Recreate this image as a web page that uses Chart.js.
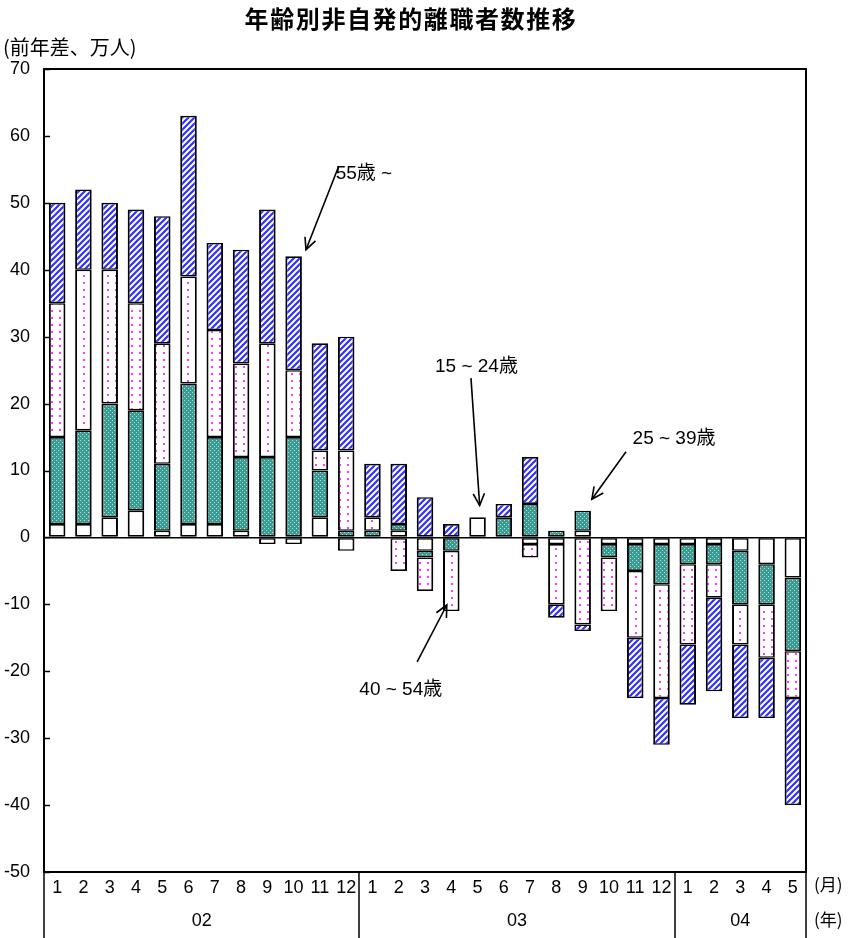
<!DOCTYPE html>
<html><head><meta charset="utf-8">
<script src="https://cdn.jsdelivr.net/npm/chart.js@4.4.1/dist/chart.umd.min.js"></script>
<style>html,body{margin:0;padding:0;background:#fff;overflow:hidden}</style>
</head><body>
<canvas id="c" width="854" height="938"></canvas>
<script>
// ---- data ----
const monthLabels = ['1','2','3','4','5','6','7','8','9','10','11','12',
                     '1','2','3','4','5','6','7','8','9','10','11','12',
                     '1','2','3','4','5'];
const yearLabels = ['02','03','04'];
const yearSpans = [12, 12, 5];
const seriesNames = ['15 ~ 24歳', '25 ~ 39歳', '40 ~ 54歳', '55歳 ~'];
const age15_24 = [2, 2, 3, 4, 1, 2, 2, 1, -1, -1, 3, -2,
                  0, 1, -2, 0, 3, 0, -1, -1, 1, -1, -1, -1,
                  -1, -1, -2, -4, -6];
const age25_39 = [13, 14, 17, 15, 10, 21, 13, 11, 12, 15, 7, 1,
                  1, 1, -1, -2, 0, 3, 5, 1, 3, -2, -4, -6,
                  -3, -3, -8, -6, -11];
const age40_54 = [20, 24, 20, 16, 18, 16, 16, 14, 17, 10, 3, 12,
                  2, -5, -5, -9, 0, 0, -2, -9, -13, -8, -10, -17,
                  -12, -5, -6, -8, -7];
const age55plus = [15, 12, 10, 14, 19, 24, 13, 17, 20, 17, 16, 17,
                   8, 9, 6, 2, 0, 2, 7, -2, -1, 0, -9, -7,
                   -9, -14, -11, -9, -16];
const yMin = -50, yMax = 70, yStep = 10;
const titleText = '年齢別非自発的離職者数推移';
const yUnitText = '(前年差、万人)';
const monthUnit = '(月)';
const yearUnit = '(年)';

// ---- patterns ----
function tile(w, h, draw) {
  const c = document.createElement('canvas');
  c.width = w; c.height = h;
  const g = c.getContext('2d');
  draw(g);
  return document.getElementById('c').getContext('2d').createPattern(c, 'repeat');
}
const whiteFill = '#ffffff';
const tealFill = tile(4, 4, g => {
  g.fillStyle = '#3b9b92'; g.fillRect(0, 0, 4, 4);
  g.fillStyle = '#b3e2dc'; g.fillRect(0, 0, 1, 1); g.fillRect(2, 2, 1, 1);
});
const pinkFill = tile(8, 7, g => {
  g.fillStyle = '#ffffff'; g.fillRect(0, 0, 8, 7);
  g.fillStyle = '#ff3cff'; g.fillRect(3, 2, 2, 2);
});
const blueFill = tile(6, 6, g => {
  g.fillStyle = '#ffffff'; g.fillRect(0, 0, 6, 6);
  g.strokeStyle = '#3030ff'; g.lineWidth = 2.2;
  g.beginPath();
  g.moveTo(-1, 7); g.lineTo(7, -1);
  g.moveTo(-4, 4); g.lineTo(4, -4);
  g.moveTo(2, 10); g.lineTo(10, 2);
  g.stroke();
});

const nz = arr => arr.map(v => v === 0 ? null : v);
const series = [age15_24, age25_39, age40_54, age55plus];
const fills = [whiteFill, tealFill, pinkFill, blueFill];

const annotations = [
  { text: '55歳 ~',   tx: 10.6,  ty: 54.4, from: [10.72, 55.5], to: [9.47, 43.0] },
  { text: '15 ~ 24歳', tx: 14.38, ty: 25.5, from: [15.75, 23.8], to: [16.08, 4.8] },
  { text: '25 ~ 39歳', tx: 21.9,  ty: 14.8, from: [21.65, 12.8], to: [20.35, 5.7] },
  { text: '40 ~ 54歳', tx: 11.5,  ty: -22.8, from: [13.7, -18.6], to: [14.83, -10.1] }
];

const deco = {
  id: 'deco',
  afterDraw(chart) {
    const { ctx, chartArea: a, scales: { x, y } } = chart;
    ctx.save();
    ctx.fillStyle = '#000'; ctx.strokeStyle = '#000';
    // title
    ctx.textAlign = 'center'; ctx.textBaseline = 'middle';
    ctx.font = 'bold 24px "Noto Sans CJK JP"';
    ctx.letterSpacing = '1.6px';
    ctx.fillText(titleText, 411, 19);
    ctx.letterSpacing = '0px';
    // unit label
    ctx.textAlign = 'left';
    ctx.font = '20px "Noto Sans CJK JP"';
    ctx.fillText(yUnitText, 3, 47);
    // plot frame
    ctx.lineWidth = 2;
    ctx.strokeRect(a.left, a.top, a.right - a.left, a.bottom - a.top);
    // inner tick marks
    ctx.lineWidth = 1.5;
    y.ticks.forEach(t => {
      const py = Math.round(y.getPixelForValue(t.value)) + 0.5;
      ctx.beginPath(); ctx.moveTo(a.left, py); ctx.lineTo(a.left + 6, py); ctx.stroke();
    });
    // bottom category box separators
    ctx.lineWidth = 1.5;
    let start = 0;
    const seps = [-0.5];
    yearSpans.forEach(s => { start += s; seps.push(start - 0.5); });
    seps.forEach(v => {
      const px = Math.round(x.getPixelForValue(v));
      ctx.beginPath(); ctx.moveTo(px, a.bottom); ctx.lineTo(px, chart.height); ctx.stroke();
    });
    // year labels
    ctx.textAlign = 'center';
    ctx.font = '18px "Liberation Sans", Arial';
    start = 0;
    yearLabels.forEach((lab, i) => {
      const c = start + (yearSpans[i] - 1) / 2;
      ctx.fillText(lab, x.getPixelForValue(c), 921);
      start += yearSpans[i];
    });
    // unit labels on the right
    ctx.textAlign = 'left';
    ctx.font = '17px "Noto Sans CJK JP"';
    ctx.fillText(monthUnit, 814, 885);
    ctx.fillText(yearUnit, 814, 920);
    // annotations
    ctx.font = '19px "Liberation Sans", "Noto Sans CJK JP"';
    ctx.lineWidth = 1.6;
    annotations.forEach(an => {
      ctx.textAlign = 'left'; ctx.textBaseline = 'middle';
      ctx.fillText(an.text, x.getPixelForValue(an.tx), y.getPixelForValue(an.ty));
      const x1 = x.getPixelForValue(an.from[0]), y1 = y.getPixelForValue(an.from[1]);
      const x2 = x.getPixelForValue(an.to[0]), y2 = y.getPixelForValue(an.to[1]);
      ctx.beginPath(); ctx.moveTo(x1, y1); ctx.lineTo(x2, y2); ctx.stroke();
      const ang = Math.atan2(y2 - y1, x2 - x1), L = 13, w = 0.45;
      ctx.beginPath();
      ctx.moveTo(x2 - L * Math.cos(ang - w), y2 - L * Math.sin(ang - w));
      ctx.lineTo(x2, y2);
      ctx.lineTo(x2 - L * Math.cos(ang + w), y2 - L * Math.sin(ang + w));
      ctx.stroke();
    });
    ctx.restore();
  }
};

new Chart(document.getElementById('c'), {
  type: 'bar',
  data: {
    labels: monthLabels,
    datasets: series.map((s, i) => ({
      label: seriesNames[i],
      data: nz(s),
      backgroundColor: fills[i],
      borderColor: '#000',
      borderWidth: { top: 1.6, bottom: 1.6, left: 2, right: 2 },
      borderSkipped: false,
      categoryPercentage: 1.0,
      barPercentage: 0.63
    }))
  },
  options: {
    responsive: false,
    animation: false,
    devicePixelRatio: 1,
    layout: { padding: { top: 69, right: 48, left: 0, bottom: 0 } },
    plugins: { legend: { display: false }, title: { display: false }, tooltip: { enabled: false } },
    scales: {
      x: {
        stacked: true,
        grid: { display: false, drawTicks: false },
        border: { display: false },
        ticks: { autoSkip: false, maxRotation: 0, minRotation: 0, padding: 5, color: '#000',
                 font: { family: '"Liberation Sans", Arial', size: 18 } },
        afterFit: s => { s.height = 66; }
      },
      y: {
        stacked: true,
        min: yMin, max: yMax,
        ticks: { stepSize: yStep, padding: 14, color: '#000',
                 font: { family: '"Liberation Sans", Arial', size: 18 } },
        grid: { drawTicks: false, lineWidth: 1.5,
                color: c => (c.tick && c.tick.value === 0) ? '#000' : 'rgba(0,0,0,0)' },
        border: { display: false },
        afterFit: s => { s.width = 44; }
      }
    }
  },
  plugins: [deco]
});
</script>
</body></html>
